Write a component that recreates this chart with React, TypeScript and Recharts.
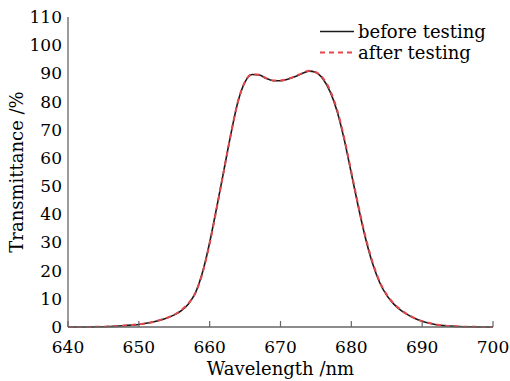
import React from 'react';
import { LineChart, Line, XAxis, YAxis, Legend } from 'recharts';

const wavelengths = [
  640, 641, 642, 643, 644, 645, 646, 647, 648, 649, 650, 651, 652, 653, 654, 655, 656, 657, 658, 659,
  660, 661, 662, 663, 664, 665, 666, 667, 668, 669, 670, 671, 672, 673, 674, 675, 676, 677, 678, 679,
  680, 681, 682, 683, 684, 685, 686, 687, 688, 689, 690, 691, 692, 693, 694, 695, 696, 697, 698, 699, 700,
];
const beforeTesting = [
  0, 0, 0, 0, 0.1, 0.1, 0.2, 0.3, 0.5, 0.7, 0.9, 1.3, 1.8, 2.4, 3.2, 4.3, 5.8, 8.2, 12.2, 19.5,
  30, 42.5, 55.5, 68.5, 80, 87, 89.6, 89.4, 88.2, 87.4, 87.4, 87.9, 88.8, 89.9, 90.8, 90.3, 88, 83.5, 76.5, 66.5,
  54.5, 42.5, 31.5, 22.5, 15.8, 11.2, 8.1, 5.9, 4.3, 3, 2, 1.3, 0.8, 0.5, 0.3, 0.2, 0.1, 0.1, 0, 0, 0,
];
const afterTesting = [
  0, 0, 0, 0, 0.1, 0.1, 0.2, 0.3, 0.5, 0.7, 1, 1.3, 1.8, 2.5, 3.3, 4.4, 6, 8.4, 12.1, 19.2,
  29.6, 42.2, 55.4, 68.5, 80.1, 87.1, 89.7, 89.5, 88.3, 87.5, 87.5, 88, 88.9, 90, 90.9, 90.4, 88.3, 84, 77, 67,
  55, 43, 32, 23, 16.1, 11.5, 8.3, 6.1, 4.4, 3.1, 2.1, 1.4, 0.9, 0.5, 0.3, 0.2, 0.1, 0.1, 0, 0, 0,
];
const xTicks = [640, 650, 660, 670, 680, 690, 700];
const yTicks = [0, 10, 20, 30, 40, 50, 60, 70, 80, 90, 100, 110];

const data = wavelengths.map((wl, i) => ({ wl, before: beforeTesting[i], after: afterTesting[i] }));

const font = 'DejaVu Serif';
const axisColor = '#666666';

const XTick = (props: any) => {
  const { x, y, payload } = props;
  return (
    <g>
      <line x1={x} x2={x} y1={y} y2={y - 6} stroke={axisColor} strokeWidth={1.2} />
      <text x={x} y={y + 26} textAnchor="middle" fill="#000" fontSize={17} fontFamily={font}>
        {payload.value}
      </text>
    </g>
  );
};

const renderLegend = () => (
  <div style={{ fontFamily: font, fontSize: 18, color: '#000', lineHeight: '21px' }}>
    <div style={{ display: 'flex', alignItems: 'center', height: 21 }}>
      <svg width={40} height={21}>
        <line x1={2} x2={36} y1={10.5} y2={10.5} stroke="#1a1a1a" strokeWidth={1.6} />
      </svg>
      <span>before testing</span>
    </div>
    <div style={{ display: 'flex', alignItems: 'center', height: 21 }}>
      <svg width={40} height={21}>
        <line x1={2} x2={36} y1={10.5} y2={10.5} stroke="#e2474b" strokeWidth={2} strokeDasharray="5 4" />
      </svg>
      <span>after testing</span>
    </div>
  </div>
);

export default function App() {
  return (
    <div style={{ position: 'absolute', left: 0, top: 0, width: 510, height: 381, background: '#fff' }}>
      <LineChart width={510} height={381} data={data} margin={{ top: 17, right: 17, bottom: 0, left: 0 }}>
        <XAxis
          dataKey="wl"
          type="number"
          domain={[640, 700]}
          ticks={xTicks}
          interval={0}
          height={54}
          tickSize={0}
          tickMargin={0}
          tickLine={false}
          tick={<XTick />}
          axisLine={{ stroke: axisColor, strokeWidth: 1.3 }}
          label={{ value: 'Wavelength /nm', position: 'insideBottom', offset: 6, fill: '#000', fontSize: 18, fontFamily: font }}
        />
        <XAxis
          xAxisId="top"
          orientation="top"
          dataKey="wl"
          type="number"
          domain={[640, 700]}
          height={0}
          tick={false}
          tickLine={false}
          axisLine={{ stroke: axisColor, strokeWidth: 1.3 }}
        />
        <YAxis
          type="number"
          domain={[0, 110]}
          ticks={yTicks}
          interval={0}
          width={68}
          tickSize={0}
          tickMargin={6}
          tickLine={false}
          tick={{ fill: '#000', fontSize: 17, fontFamily: font }}
          axisLine={{ stroke: axisColor, strokeWidth: 1.3 }}
          label={{ value: 'Transmittance /%', angle: -90, position: 'insideLeft', offset: 17, fill: '#000', fontSize: 18, fontFamily: font, style: { textAnchor: 'middle' } }}
        />
        <YAxis
          yAxisId="right"
          orientation="right"
          type="number"
          domain={[0, 110]}
          width={0}
          tick={false}
          tickLine={false}
          axisLine={{ stroke: axisColor, strokeWidth: 1.3 }}
        />
        <Legend
          layout="vertical"
          align="center"
          verticalAlign="middle"
          content={renderLegend}
          wrapperStyle={{ top: 21, left: 318, width: 190, height: 44 }}
        />
        <Line type="monotone" dataKey="before" stroke="#1a1a1a" strokeWidth={1.6} dot={false} isAnimationActive={false} />
        <Line type="monotone" dataKey="after" stroke="#e2474b" strokeWidth={2} strokeDasharray="5 4" dot={false} isAnimationActive={false} />
      </LineChart>
    </div>
  );
}
